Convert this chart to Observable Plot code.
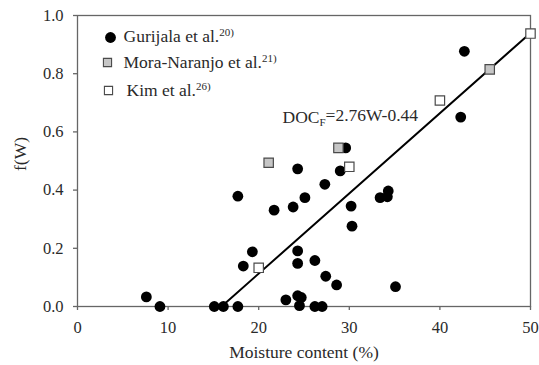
<!DOCTYPE html>
<html>
<head>
<meta charset="utf-8">
<script src="https://cdn.jsdelivr.net/npm/d3@7"></script>
<script src="https://cdn.jsdelivr.net/npm/@observablehq/plot@0.6"></script>
<style>
  html, body { margin: 0; padding: 0; background: #fff; }
  #chart svg { display: block; font-family: "Liberation Serif", "Times New Roman", serif !important; font-size: 16.5px !important; }
  #chart svg text { font-family: "Liberation Serif", "Times New Roman", serif !important; }
</style>
</head>
<body>
<div id="chart"></div>
<script>
// Gurijala et al. (black circles)
const gurX = [7.6, 9.1, 15.1, 16.1, 17.7, 17.7, 18.3, 19.3, 21.7, 23.0, 23.8, 24.3, 24.3, 24.3, 24.3, 24.7, 24.5, 25.1, 26.2, 26.2, 27.0, 27.3, 27.4, 28.6, 29.0, 29.6, 30.2, 30.3, 33.4, 34.2, 34.3, 35.1, 42.3, 42.7];
const gurY = [0.033, 0, 0, 0, 0, 0.379, 0.139, 0.188, 0.331, 0.023, 0.342, 0.473, 0.191, 0.148, 0.037, 0.031, 0.003, 0.374, 0.158, 0, 0, 0.42, 0.104, 0.074, 0.466, 0.545, 0.345, 0.276, 0.374, 0.377, 0.397, 0.068, 0.651, 0.877];
// Mora-Naranjo et al. (gray squares)
const moraX = [21.1, 28.8, 45.5];
const moraY = [0.494, 0.545, 0.815];
// Kim et al. (white squares)
const kimX = [20.0, 30.0, 40.0, 50.0];
const kimY = [0.133, 0.48, 0.708, 0.938];
// Regression line DOC_F = 2.76W - 0.44
const fitX = [15.9, 50];
const fitY = [0, 0.94];
// Ticks and labels
const xTicks = [0, 10, 20, 30, 40, 50];
const yTicks = [0, 0.2, 0.4, 0.6, 0.8, 1.0];
const legendNames = ["Gurijala et al.", "Mora-Naranjo et al.", "Kim et al."];
const legendRefs = ["20)", "21)", "26)"];
const xLabel = "Moisture content (%)";
const yLabel = "f(W)";
const eqMain = "DOC";
const eqSub = "F";
const eqRest = "=2.76W-0.44";

const gur = gurX.map((x, i) => ({x, y: gurY[i]}));
const mora = moraX.map((x, i) => ({x, y: moraY[i]}));
const kim = kimX.map((x, i) => ({x, y: kimY[i]}));
const fit = fitX.map((x, i) => ({x, y: fitY[i]}));

const axisColor = "#666";
const textColor = "#2a2a2a";
const sqStroke = "#4a4a4a";

const chart = Plot.plot({
  width: 539,
  height: 365,
  marginLeft: 77,
  marginRight: 9,
  marginTop: 15,
  marginBottom: 59,
  style: "font-family: 'Liberation Serif', 'Times New Roman', serif; font-size: 16.5px; background: #fff;",
  x: {domain: [0, 50], ticks: xTicks},
  y: {domain: [0, 1], ticks: yTicks},
  marks: [
    Plot.frame({stroke: axisColor, strokeWidth: 1.3}),
    Plot.axisX({ticks: xTicks, tickSize: 4, tickPadding: 11, stroke: axisColor, strokeWidth: 1.3, label: null, fill: textColor, fontSize: 16.5}),
    Plot.axisY({ticks: yTicks, tickSize: 4, tickPadding: 10, tickFormat: d3.format(".1f"), stroke: axisColor, strokeWidth: 1.3, label: null, fill: textColor, fontSize: 16.5}),
    Plot.line(fit, {x: "x", y: "y", stroke: "#000", strokeWidth: 2}),
    Plot.dot(gur, {x: "x", y: "y", r: 5.4, fill: "#000", stroke: "none"}),
    Plot.dot(mora, {x: "x", y: "y", symbol: "square", r: 5.3, fill: "#c6c6c6", stroke: sqStroke, strokeWidth: 1.2}),
    Plot.dot(kim, {x: "x", y: "y", symbol: "square", r: 5.3, fill: "#fff", stroke: sqStroke, strokeWidth: 1.2}),
    // legend symbols
    Plot.dot([0], {frameAnchor: "top-left", dx: 33, dy: 22, r: 5.4, fill: "#000", stroke: "none"}),
    Plot.dot([0], {frameAnchor: "top-left", dx: 30, dy: 47, symbol: "square", r: 4.6, fill: "#c6c6c6", stroke: sqStroke, strokeWidth: 1.1}),
    Plot.dot([0], {frameAnchor: "top-left", dx: 31, dy: 75, symbol: "square", r: 4.6, fill: "#fff", stroke: sqStroke, strokeWidth: 1.1}),
    // legend labels
    Plot.text([legendNames[0]], {frameAnchor: "top-left", dx: 46, dy: 21, textAnchor: "start", lineAnchor: "middle", fontSize: 17.5, fill: textColor}),
    Plot.text([legendNames[1]], {frameAnchor: "top-left", dx: 46, dy: 47, textAnchor: "start", lineAnchor: "middle", fontSize: 17.5, fill: textColor}),
    Plot.text([legendNames[2]], {frameAnchor: "top-left", dx: 49, dy: 75, textAnchor: "start", lineAnchor: "middle", fontSize: 17.5, fill: textColor}),
    // equation
    Plot.text([eqMain], {frameAnchor: "top-left", dx: 205, dy: 102, textAnchor: "start", lineAnchor: "middle", fontSize: 17.5, fill: textColor}),
    // axis labels
    Plot.text([xLabel], {frameAnchor: "bottom", dy: 46, textAnchor: "middle", lineAnchor: "middle", fontSize: 17.5, fill: textColor}),
    Plot.text([yLabel], {frameAnchor: "left", dx: -57, dy: -7, rotate: -90, textAnchor: "middle", lineAnchor: "middle", fontSize: 17.5, fill: textColor})
  ]
});

const svg = d3.select(chart);
const allText = svg.selectAll("text");
legendNames.forEach((name, i) => {
  allText.filter(function() { return this.textContent === name; }).each(function() {
    d3.select(this).append("tspan").attr("dy", "-0.55em").attr("font-size", "11px").text(legendRefs[i]);
  });
});
allText.filter(function() { return this.textContent === eqMain; }).each(function() {
  const t = d3.select(this);
  t.append("tspan").attr("dy", "0.3em").attr("font-size", "11px").text(eqSub);
  t.append("tspan").attr("dy", "-0.3em").text(eqRest);
});

document.getElementById("chart").appendChild(chart);
</script>
</body>
</html>
